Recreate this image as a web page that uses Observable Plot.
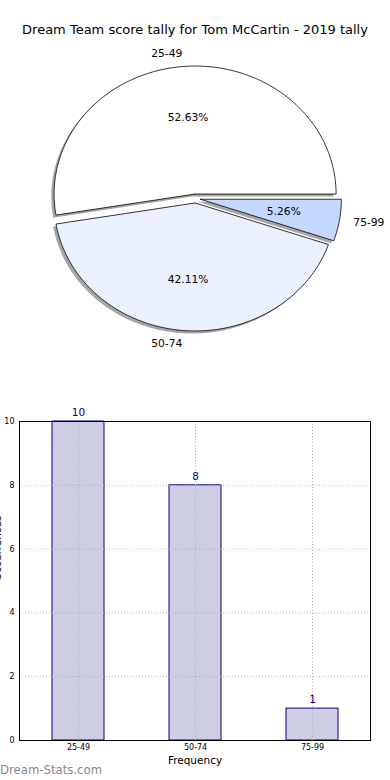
<!DOCTYPE html>
<html><head><meta charset="utf-8">
<script src="https://cdn.jsdelivr.net/npm/d3@7"></script>
<script src="https://cdn.jsdelivr.net/npm/@observablehq/plot@0.6"></script>
<style>
body{margin:0;background:#fff;font-family:"DejaVu Sans",sans-serif}
#wrap{position:relative;width:390px;height:780px;overflow:hidden;background:#fff}
#title{position:absolute;top:22px;left:0;width:390px;text-align:center;font-size:13px;line-height:16px;color:#000}
#pie{position:absolute;top:0;left:0}
#bar{position:absolute;top:400px;left:0}
#wm{position:absolute;left:0;top:763px;font-size:11.7px;line-height:14px;color:#888}
</style></head><body>
<div id="wrap">
  <div id="pie"></div>
  <div id="title">Dream Team score tally for Tom McCartin - 2019 tally</div>
  <div id="bar"></div>
  <div id="wm">Dream-Stats.com</div>
</div>
<script>
// ---- data ----
const categories = ["25-49", "50-74", "75-99"];
const counts = [10, 8, 1];
const sliceColors = ["#ffffff", "#eaf0fd", "#c4d7fc"];
const yTicks = [0, 2, 4, 6, 8, 10];
const xLabel = "Frequency";
const yLabel = "Occurrences";
const titleText = "Dream Team score tally for Tom McCartin - 2019 tally";

document.getElementById("title").textContent = titleText;

// ---- pie geometry (matplotlib-like: start at 0°, counter-clockwise) ----
const total = d3.sum(counts);
const explode = 0.035;
const shadowOff = -0.02;
let cum = 0;
const slices = categories.map((c, i) => {
  const a0 = cum / total * 2 * Math.PI;
  cum += counts[i];
  const a1 = cum / total * 2 * Math.PI;
  const mid = (a0 + a1) / 2;
  const ox = explode * Math.cos(mid), oy = explode * Math.sin(mid);
  const pts = [{x: ox, y: oy}];
  const n = Math.max(4, Math.ceil((a1 - a0) / (Math.PI / 180)));
  for (let k = 0; k <= n; k++) {
    const a = a0 + (a1 - a0) * k / n;
    pts.push({x: ox + Math.cos(a), y: oy + Math.sin(a)});
  }
  pts.push({x: ox, y: oy});
  const lx = 1.1 * Math.cos(mid) + ox, ly = 1.1 * Math.sin(mid) + oy;
  const px = 0.6 * Math.cos(mid) + ox, py = 0.6 * Math.sin(mid) + oy;
  return {cat: c, color: sliceColors[i], pts, lx, ly, px, py,
          pct: (counts[i] / total * 100).toFixed(2) + "%",
          left: Math.cos(mid) < 0};
});

const pieMarks = [];
for (const s of slices) {
  pieMarks.push(Plot.line(s.pts.map(p => ({x: p.x + shadowOff, y: p.y + shadowOff})),
    {x: "x", y: "y", fill: "#a6a6a6", stroke: "none", curve: "linear"}));
}
for (const s of slices) {
  pieMarks.push(Plot.line(s.pts, {x: "x", y: "y", fill: s.color, stroke: "#000",
    strokeWidth: 0.8, curve: "linear", strokeLinejoin: "miter"}));
}
pieMarks.push(Plot.text(slices.filter(s => s.left), {x: "lx", y: "ly", text: "cat", textAnchor: "end", fontSize: 10.7, fill: "#000"}));
pieMarks.push(Plot.text(slices.filter(s => !s.left), {x: "lx", y: "ly", text: "cat", textAnchor: "start", fontSize: 10.7, fill: "#000"}));
pieMarks.push(Plot.text(slices, {x: "px", y: "py", text: "pct", textAnchor: "middle", fontSize: 10.7, fill: "#000"}));

const pie = Plot.plot({
  width: 390, height: 360, margin: 0,
  style: {fontFamily: "DejaVu Sans", background: "transparent"},
  x: {domain: [-195 / 141, 195 / 141], axis: null},
  y: {domain: [-(360 - 198) / 128, 198 / 128], axis: null},
  marks: pieMarks
});
document.getElementById("pie").append(pie);

// ---- bar chart ----
const barData = categories.map((c, i) => ({cat: c, count: counts[i]}));
const gridStyle = {stroke: "#b0b0b0", strokeOpacity: 1, strokeWidth: 1, strokeDasharray: "1,2"};
const bar = Plot.plot({
  width: 390, height: 375,
  marginTop: 21, marginBottom: 35, marginLeft: 19, marginRight: 20,
  style: {fontFamily: "DejaVu Sans", fontSize: "8px", background: "transparent", overflow: "visible"},
  x: {domain: categories, paddingInner: 0.556, paddingOuter: 0.278, align: 0.5, label: null},
  y: {domain: [0, 10], label: null},
  marks: [
    Plot.barY(barData, {x: "cat", y: "count", fill: "#cdcde3", stroke: "#000080", strokeWidth: 1}),
    Plot.gridY(yTicks, gridStyle),
    Plot.gridX(categories, gridStyle),
    Plot.frame({stroke: "#000", strokeWidth: 1}),
    Plot.axisY(yTicks, {tickSize: 0, tickPadding: 5, fontSize: 8, label: null}),
    Plot.axisX({tickSize: 0, tickPadding: 4, fontSize: 8, label: null}),
    Plot.text(barData, {x: "cat", y: "count", text: d => String(d.count), dy: -9, fill: "#00008b", fontSize: 10.5}),
    Plot.text([xLabel], {frameAnchor: "bottom", lineAnchor: "middle", text: d => d, dy: 20, fontSize: 10.5, fill: "#000"}),
    Plot.text([yLabel], {frameAnchor: "left", lineAnchor: "middle", text: d => d, rotate: -90, dx: -22, fontSize: 10.5, fill: "#000"})
  ]
});
document.getElementById("bar").append(bar);
</script>
</body></html>
